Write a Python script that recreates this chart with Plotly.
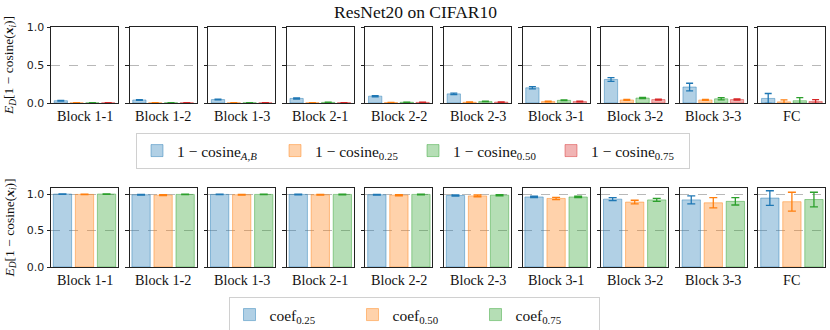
import plotly.graph_objects as go

# Data
blocks = ["Block 1-1", "Block 1-2", "Block 1-3", "Block 2-1", "Block 2-2",
          "Block 2-3", "Block 3-1", "Block 3-2", "Block 3-3", "FC"]

cos_ab = [0.03, 0.04, 0.045, 0.06, 0.09, 0.12, 0.20, 0.31, 0.21, 0.06]
cos_ab_err = [0.005, 0.005, 0.005, 0.008, 0.008, 0.01, 0.015, 0.025, 0.05, 0.065]
cos_025 = [0.002, 0.002, 0.002, 0.003, 0.005, 0.01, 0.02, 0.04, 0.04, 0.015]
cos_025_err = [0.001, 0.001, 0.001, 0.001, 0.002, 0.003, 0.004, 0.006, 0.006, 0.025]
cos_050 = [0.002, 0.002, 0.003, 0.008, 0.01, 0.02, 0.035, 0.065, 0.055, 0.03]
cos_050_err = [0.001, 0.001, 0.001, 0.002, 0.002, 0.003, 0.005, 0.008, 0.015, 0.04]
cos_075 = [0.002, 0.002, 0.002, 0.004, 0.008, 0.012, 0.02, 0.045, 0.045, 0.02]
cos_075_err = [0.001, 0.001, 0.001, 0.001, 0.002, 0.003, 0.004, 0.006, 0.008, 0.025]

coef_025 = [1.0, 0.99, 0.995, 0.995, 0.99, 0.98, 0.96, 0.93, 0.92, 0.945]
coef_025_err = [0.003, 0.005, 0.004, 0.005, 0.006, 0.008, 0.01, 0.02, 0.055, 0.1]
coef_050 = [0.995, 0.985, 0.99, 0.99, 0.985, 0.975, 0.94, 0.89, 0.88, 0.895]
coef_050_err = [0.004, 0.006, 0.005, 0.006, 0.008, 0.012, 0.015, 0.025, 0.07, 0.13]
coef_075 = [1.0, 0.995, 0.995, 0.995, 0.995, 0.985, 0.96, 0.92, 0.90, 0.925]
coef_075_err = [0.003, 0.004, 0.004, 0.005, 0.005, 0.008, 0.01, 0.02, 0.05, 0.1]

colors = ["31,119,180", "255,127,14", "44,160,44", "214,39,40"]

top_series = [
    ("1 − cosine<sub><i>A,B</i></sub>", cos_ab, cos_ab_err),
    ("1 − cosine<sub>0.25</sub>", cos_025, cos_025_err),
    ("1 − cosine<sub>0.50</sub>", cos_050, cos_050_err),
    ("1 − cosine<sub>0.75</sub>", cos_075, cos_075_err),
]
bottom_series = [
    ("coef<sub>0.25</sub>", coef_025, coef_025_err),
    ("coef<sub>0.50</sub>", coef_050, coef_050_err),
    ("coef<sub>0.75</sub>", coef_075, coef_075_err),
]

W, H = 830, 330
fig = go.Figure()

serif = "Liberation Serif"
sans = "DejaVu Sans"

def px_x(p):
    return p / W

def px_y(p):
    return 1 - p / H

rows = [
    dict(series=top_series, ytop=27, ybot=103, yrange=[0, 1.0], legend="legend",
         xrange=[-0.62, 3.62], width=0.84, cap=3.5),
    dict(series=bottom_series, ytop=188, ybot=267, yrange=[0, 1.083], legend="legend2",
         xrange=[-0.52, 2.52], width=0.83, cap=4),
]

layout = {}
annotations = []
k = 0
for r, row in enumerate(rows):
    for i, name in enumerate(blocks):
        k += 1
        x0 = 51 + 78.6 * i
        x1 = x0 + 67
        sfx = "" if k == 1 else str(k)
        layout["xaxis" + sfx] = dict(
            domain=[px_x(x0), px_x(x1)], anchor="y" + sfx, range=row["xrange"],
            showticklabels=False, ticks="", showgrid=False, zeroline=False,
            showline=True, linecolor="#222", linewidth=1, mirror=True,
        )
        layout["yaxis" + sfx] = dict(
            domain=[px_y(row["ybot"]), px_y(row["ytop"])], anchor="x" + sfx,
            range=row["yrange"], tickvals=[0, 0.5, 1.0], ticktext=["0.0", "0.5", "1.0"],
            showticklabels=(i == 0), ticks="outside", ticklen=3.5, tickwidth=1,
            tickcolor="#222", tickfont=dict(family=sans, size=11, color="#222"),
            showgrid=True, gridcolor="#b8b8b8", griddash="dash", gridwidth=0.8,
            zeroline=False, showline=True, linecolor="#222", linewidth=1, mirror=True,
        )
        for j, (label, vals, errs) in enumerate(row["series"]):
            c = colors[j]
            fig.add_trace(go.Bar(
                x=[j], y=[vals[i]], width=row["width"],
                xaxis="x" + sfx, yaxis="y" + sfx,
                name=label, legend=row["legend"], showlegend=(i == 0),
                marker=dict(color=f"rgba({c},0.35)", line=dict(color=f"rgba({c},0.45)", width=1)),
                error_y=dict(type="data", array=[errs[i]], color=f"rgb({c})",
                             thickness=1.3, width=row["cap"]),
            ))
        annotations.append(dict(
            text=name, x=px_x((x0 + x1) / 2), y=px_y(row["ybot"] + 13),
            xref="paper", yref="paper", xanchor="center", yanchor="middle", showarrow=False,
            font=dict(family=serif, size=14.2, color="#111"),
        ))
    annotations.append(dict(
        text="<i>E</i><sub><i>D</i></sub>[1 − cosine(<b><i>x</i></b><sub><i>i</i></sub>)]",
        x=px_x(10), y=px_y((row["ytop"] + row["ybot"]) / 2 + 1),
        xref="paper", yref="paper", xanchor="center", yanchor="middle",
        showarrow=False, textangle=-90,
        font=dict(family=serif, size=13.5, color="#111"),
    ))

annotations.append(dict(
    text="ResNet20 on CIFAR10", x=px_x(415), y=px_y(12), xref="paper", yref="paper",
    xanchor="center", yanchor="middle",
    showarrow=False, font=dict(family=serif, size=17.5, color="#111"),
))

legend_style = dict(
    orientation="h", xanchor="center", yanchor="middle",
    bgcolor="white", bordercolor="#d0d0d0", borderwidth=1,
    font=dict(family=serif, size=15.5, color="#111"),
    itemwidth=30,
)

fig.update_layout(
    **layout,
    annotations=annotations,
    barmode="overlay",
    width=W, height=H,
    margin=dict(l=0, r=0, t=0, b=0, autoexpand=False),
    paper_bgcolor="white", plot_bgcolor="white",
    legend=dict(x=px_x(413), y=px_y(151), entrywidth=93, **legend_style),
    legend2=dict(x=px_x(414), y=px_y(315), entrywidth=78, **legend_style),
)

# drop the page's default body margin so the 830x330 figure fills the window
fig.write_html("out.html", config={"displayModeBar": False},
               post_script="document.body.style.margin='0';")
